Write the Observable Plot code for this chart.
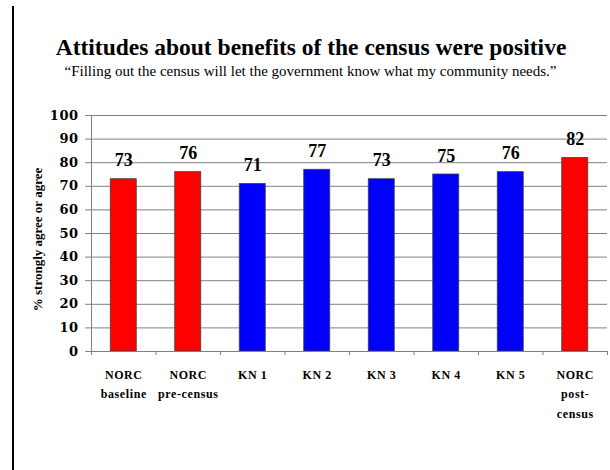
<!DOCTYPE html>
<html>
<head>
<meta charset="utf-8">
<script src="https://cdn.jsdelivr.net/npm/d3@7"></script>
<script src="https://cdn.jsdelivr.net/npm/@observablehq/plot@0.6"></script>
<style>
  html, body { margin: 0; padding: 0; background: #fff; }
  #wrap { position: relative; width: 610px; height: 470px; overflow: hidden; font-family: "Liberation Serif", "Times New Roman", serif; color: #000; }
  #vline { position: absolute; left: 12px; top: 6px; width: 2px; height: 470px; background: #000; }
  #title { position: absolute; left: 0; width: 622px; top: 35px; text-align: center; font-size: 23.5px; line-height: 24px; font-weight: bold; }
  #subtitle { position: absolute; left: 0; width: 621px; top: 64px; text-align: center; font-size: 15px; line-height: 15px; }
  #chart { position: absolute; left: 0; top: 90px; }
  #chart g[aria-label="y-axis tick label"] text { letter-spacing: 0.5px; }
  #chart g.xlab text { letter-spacing: 0.6px; }
</style>
</head>
<body>
<div id="wrap">
  <div id="vline"></div>
  <div id="title">Attitudes about benefits of the census were positive</div>
  <div id="subtitle">“Filling out the census will let the government know what my community needs.”</div>
  <div id="chart"></div>
</div>
<script>
const categories = ["NORC\nbaseline", "NORC\npre-census", "KN 1", "KN 2", "KN 3", "KN 4", "KN 5", "NORC\npost-\ncensus"];
const values = [73, 76, 71, 77, 73, 75, 76, 82];
const groups = ["NORC", "NORC", "KN", "KN", "KN", "KN", "KN", "NORC"];
const yTicks = [0, 10, 20, 30, 40, 50, 60, 70, 80, 90, 100];
const yLabel = "% strongly agree or agree";

const data = categories.map((c, i) => ({i, label: c, value: values[i], group: groups[i]}));
const boundaries = d3.range(categories.length + 1);

const chart = Plot.plot({
  width: 610,
  height: 380,
  marginTop: 25,
  marginBottom: 119,
  marginLeft: 91,
  marginRight: 3,
  style: {fontFamily: "Liberation Serif, Times New Roman, serif", color: "#000", background: "transparent", overflow: "visible"},
  x: {type: "linear", domain: [0, categories.length], axis: null},
  y: {domain: [0, 100], axis: null},
  color: {domain: ["NORC", "KN"], range: ["#ff0000", "#0000ff"]},
  marks: [
    Plot.ruleY(yTicks.filter(d => d > 0), {stroke: "#808080", strokeWidth: 1}),
    Plot.rectY(data, {x1: "i", x2: d => d.i + 1, y: "value", fill: "group", insetLeft: 19.25, insetRight: 19.25, stroke: "#404040", strokeWidth: 0.8}),
    Plot.ruleY([0], {stroke: "#808080", strokeWidth: 1}),
    Plot.ruleX([0], {stroke: "#808080", strokeWidth: 1}),
    Plot.axisY({ticks: yTicks, tickSize: 6, tickPadding: 7, fontSize: 13, fontWeight: "bold", fontFamily: "DejaVu Serif", stroke: "#808080", fill: "#000", label: null}),
    Plot.axisX({ticks: boundaries, tickSize: 4, tickFormat: () => "", stroke: "#808080", label: null}),
    Plot.text(data, {x: d => d.i + 0.5, y: 0, text: "label", lineAnchor: "top", dy: 14, lineHeight: 1.6, fontSize: 12, fontWeight: "bold", fill: "#000", className: "xlab"}),
    Plot.text(data, {x: d => d.i + 0.5, y: "value", text: d => String(d.value), lineAnchor: "bottom", dy: -13, fontSize: 18, fontWeight: "bold", fill: "#000"}),
    Plot.text([yLabel], {frameAnchor: "left", textAnchor: "middle", rotate: -90, dx: -54, dy: 6, fontSize: 13, fontWeight: "bold", fill: "#000"})
  ]
});
document.getElementById("chart").appendChild(chart);
</script>
</body>
</html>
